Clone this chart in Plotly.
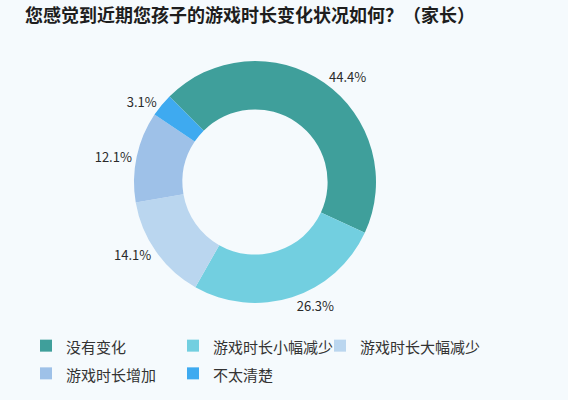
import plotly.graph_objects as go

categories = ["没有变化", "游戏时长小幅减少", "游戏时长大幅减少", "游戏时长增加", "不太清楚"]
values = [44.4, 26.3, 14.1, 12.1, 3.1]
colors = ["#3f9f9b", "#72cfe0", "#bad6ef", "#9ec1e8", "#3eaaf0"]
title = "您感觉到近期您孩子的游戏时长变化状况如何？（家长）"

bg = "#f5fafd"
font_family = "Noto Sans CJK SC"

W, H = 568, 400
ML, MR = 0, 60
plot_w = W - ML - MR

legend_labels = ['<span style="font-size:15px">%s</span>' % c for c in categories]

fig = go.Figure(go.Pie(
    labels=legend_labels,
    values=values,
    marker=dict(colors=colors, line=dict(width=0)),
    hole=0.6,
    sort=False,
    direction="clockwise",
    rotation=-45,
    textposition="outside",
    texttemplate="%{value:.1f}%",
    textfont=dict(size=13, color="#2a2a2a", family=font_family),
    domain=dict(x=[133 / plot_w, 377 / plot_w], y=[0.2425, 0.8475]),
    showlegend=True,
))

fig.update_layout(
    width=W, height=H,
    margin=dict(l=ML, r=MR, t=0, b=0),
    paper_bgcolor=bg, plot_bgcolor=bg,
    font=dict(family=font_family, color="#333333"),
    title=dict(text="<b>" + title + "</b>", x=0.044, xanchor="left", y=0.96, yanchor="middle",
               font=dict(size=18, color="#1e1e1e", family=font_family)),
    legend=dict(orientation="h", x=26 / plot_w, xanchor="left", y=0.183, yanchor="top",
                font=dict(size=19, color="#333333", family=font_family),
                itemwidth=30, entrywidth=102, entrywidthmode="pixels",
                bgcolor="rgba(0,0,0,0)", tracegroupgap=0, traceorder="normal"),
)

post = """
document.body.style.margin='0';
document.body.style.background='%s';
(function(){
  var gd = document.querySelector('.plotly-graph-div');
  function unclip(){
    document.querySelectorAll('.legend .scrollbox').forEach(function(e){ e.removeAttribute('clip-path'); });
  }
  unclip();
  if (gd && gd.on) { gd.on('plotly_afterplot', unclip); }
  setTimeout(unclip, 50);
  setTimeout(unclip, 300);
})();
""" % bg

fig.write_html("out.html", config={"displayModeBar": False}, post_script=post)
